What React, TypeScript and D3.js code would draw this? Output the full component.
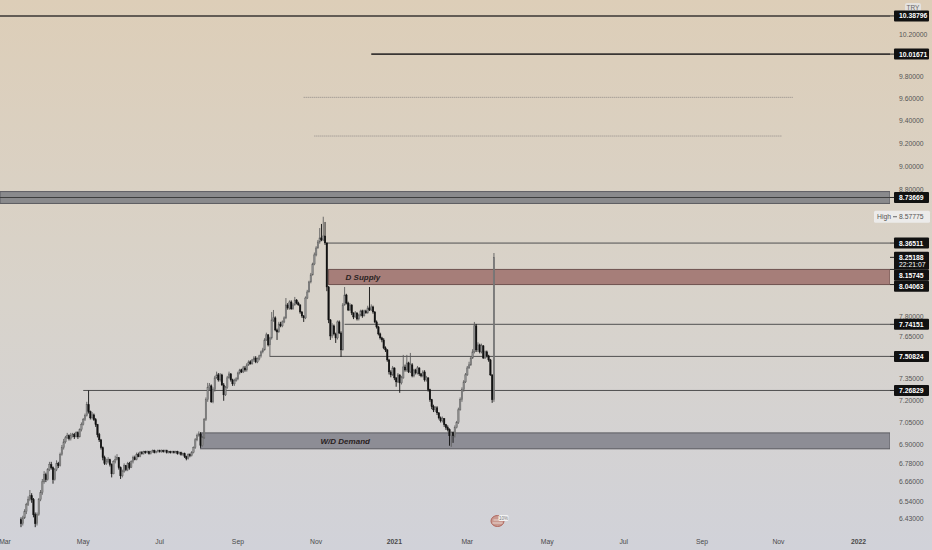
import * as React from 'react'
import * as d3 from 'd3'

const WIDTH = 932
const HEIGHT = 550
const PLOT_RIGHT = 890
const PLOT_BOTTOM = 531
const AXIS_TEXT_X = 899
const VIEW_FIRST_BAR = -2.81
const VIEW_LAST_BAR = 497.75
const PRICE_TOP = 10.547
const PRICE_BOTTOM = 6.3567
const FONT = '"Liberation Sans", Arial, sans-serif'

const dayKey = d3.timeFormat('%Y-%m-%d')

// weekday calendar, bar 0 = 2 Mar 2020
const tradingDays = d3.timeDay
  .range(new Date(2020, 2, 2), new Date(2022, 1, 1))
  .filter(d => d.getDay() !== 0 && d.getDay() !== 6)
const barOf = new Map(tradingDays.map((d, i) => [dayKey(d), i]))
const bar = (day: string) => barOf.get(day) as number

// daily candles from 13 Mar 2020 to 22 Mar 2021 (open = previous close)
const FIRST_CANDLE = '2020-03-13'
const FIRST_OPEN = 6.425
const closes = [
  6.401, 6.437, 6.475, 6.518, 6.549, 6.574, 6.549, 6.456, 6.401, 6.456,
  6.549, 6.593, 6.662, 6.707, 6.675, 6.739, 6.772, 6.752, 6.675, 6.739,
  6.778, 6.765, 6.837, 6.882, 6.921, 6.947, 6.961, 6.941, 6.961, 6.968,
  6.954, 6.981, 6.954, 7.001, 7.035, 7.068, 7.095, 7.17, 7.122, 7.081,
  7.101, 7.068, 7.035, 6.968, 6.934, 6.882, 6.817, 6.778, 6.791, 6.804,
  6.772, 6.713, 6.791, 6.804, 6.817, 6.752, 6.7, 6.726, 6.765, 6.739,
  6.778, 6.752, 6.791, 6.817, 6.804, 6.837, 6.824, 6.85, 6.843, 6.856,
  6.85, 6.856, 6.843, 6.856, 6.863, 6.85, 6.856, 6.863, 6.856, 6.863,
  6.856, 6.863, 6.85, 6.856, 6.85, 6.856, 6.85, 6.856, 6.843, 6.85,
  6.837, 6.843, 6.824, 6.811, 6.837, 6.83, 6.85, 6.882, 6.934, 6.961,
  6.974, 6.895, 6.947, 7.068, 7.204, 7.287, 7.3, 7.19, 7.273, 7.356,
  7.377, 7.342, 7.377, 7.307, 7.238, 7.287, 7.356, 7.384, 7.342, 7.314,
  7.335, 7.349, 7.391, 7.412, 7.398, 7.426, 7.412, 7.448, 7.469, 7.455,
  7.483, 7.497, 7.469, 7.49, 7.512, 7.541, 7.555, 7.627, 7.664, 7.591,
  7.642, 7.774, 7.789, 7.7, 7.685, 7.744, 7.73, 7.759, 7.789, 7.886,
  7.863, 7.908, 7.856, 7.886, 7.923, 7.9, 7.886, 7.833, 7.804, 7.789,
  7.938, 7.984, 8.061, 8.115, 8.2, 8.271, 8.326, 8.374, 8.406, 8.39,
  8.422, 8.366, 8.022, 7.774, 7.656, 7.73, 7.671, 7.642, 7.759, 7.678,
  7.555, 7.886, 7.961, 7.9, 7.848, 7.886, 7.826, 7.796, 7.826, 7.781,
  7.811, 7.841, 7.804, 7.841, 7.826, 7.863, 7.848, 7.871, 7.833, 7.759,
  7.722, 7.671, 7.642, 7.627, 7.569, 7.555, 7.483, 7.398, 7.377, 7.426,
  7.356, 7.328, 7.377, 7.321, 7.356, 7.433, 7.412, 7.462, 7.398, 7.448,
  7.37, 7.412, 7.391, 7.426, 7.384, 7.37, 7.398, 7.342, 7.356, 7.273,
  7.204, 7.156, 7.135, 7.149, 7.115, 7.081, 7.061, 7.075, 7.035, 7.015,
  7.001, 6.961, 6.981, 6.961, 7.015, 7.048, 7.135, 7.204, 7.273, 7.328,
  7.377, 7.426, 7.448, 7.497, 7.541, 7.73, 7.555, 7.591, 7.541, 7.584,
  7.497, 7.541, 7.512, 7.483, 7.377, 7.204, 8.25188
]
const highs = [
  6.44, 6.45, 6.49, 6.53, 6.57, 6.61, 6.59, 6.56, 6.47, 6.47,
  6.56, 6.61, 6.68, 6.73, 6.72, 6.75, 6.79, 6.79, 6.76, 6.75,
  6.8, 6.79, 6.85, 6.9, 6.94, 6.96, 6.98, 6.97, 6.98, 6.98,
  6.98, 6.99, 6.99, 7.01, 7.05, 7.08, 7.11, 7.19, 7.268, 7.13,
  7.12, 7.11, 7.08, 7.04, 6.98, 6.94, 6.89, 6.83, 6.81, 6.82,
  6.81, 6.78, 6.8, 6.83, 6.84, 6.82, 6.76, 6.74, 6.78, 6.77,
  6.79, 6.79, 6.8, 6.83, 6.83, 6.85, 6.85, 6.86, 6.86, 6.862,
  6.862, 6.863, 6.862, 6.862, 6.87, 6.869, 6.862, 6.87, 6.869, 6.87,
  6.869, 6.87, 6.869, 6.862, 6.862, 6.862, 6.862, 6.862, 6.862, 6.856,
  6.856, 6.85, 6.85, 6.83, 6.845, 6.845, 6.86, 6.89, 6.945, 6.975,
  6.99, 6.985, 6.96, 7.08, 7.22, 7.321, 7.32, 7.31, 7.29, 7.37,
  7.4, 7.39, 7.39, 7.385, 7.32, 7.3, 7.37, 7.4, 7.39, 7.35,
  7.35, 7.36, 7.4, 7.42, 7.42, 7.44, 7.44, 7.46, 7.48, 7.48,
  7.49, 7.51, 7.51, 7.5, 7.52, 7.55, 7.57, 7.64, 7.68, 7.67,
  7.65, 7.833, 7.848, 7.8, 7.71, 7.76, 7.76, 7.77, 7.8, 7.938,
  7.9, 7.92, 7.92, 7.9, 7.946, 7.93, 7.91, 7.89, 7.84, 7.81,
  7.95, 8.0, 8.07, 8.13, 8.21, 8.29, 8.34, 8.39, 8.486, 8.519,
  8.57775, 8.535, 8.37, 8.03, 7.78, 7.75, 7.74, 7.68, 7.77, 7.77,
  7.69, 7.9, 8.022, 7.97, 7.91, 7.9, 7.89, 7.83, 7.84, 7.83,
  7.82, 7.85, 7.85, 7.85, 7.85, 7.88, 8.022, 7.89, 7.88, 7.84,
  7.77, 7.73, 7.68, 7.65, 7.64, 7.58, 7.56, 7.49, 7.41, 7.44,
  7.43, 7.36, 7.39, 7.38, 7.37, 7.519, 7.45, 7.519, 7.47, 7.533,
  7.46, 7.42, 7.42, 7.44, 7.43, 7.39, 7.41, 7.41, 7.37, 7.36,
  7.28, 7.21, 7.17, 7.16, 7.16, 7.12, 7.09, 7.09, 7.08, 7.04,
  7.03, 7.01, 6.99, 6.99, 7.03, 7.06, 7.15, 7.22, 7.29, 7.34,
  7.39, 7.44, 7.47, 7.51, 7.56, 7.759, 7.744, 7.61, 7.6, 7.6,
  7.59, 7.55, 7.55, 7.52, 7.49, 7.38, 8.286
]
const lows = [
  6.38, 6.39, 6.43, 6.46, 6.51, 6.54, 6.53, 6.44, 6.38, 6.39,
  6.45, 6.54, 6.58, 6.65, 6.66, 6.67, 6.73, 6.74, 6.65, 6.67,
  6.73, 6.75, 6.76, 6.83, 6.87, 6.91, 6.94, 6.93, 6.93, 6.95,
  6.94, 6.95, 6.94, 6.95, 6.99, 7.03, 7.06, 7.09, 7.11, 7.07,
  7.07, 7.06, 7.02, 6.95, 6.92, 6.87, 6.8, 6.77, 6.77, 6.78,
  6.76, 6.69, 6.71, 6.78, 6.8, 6.74, 6.68, 6.69, 6.72, 6.73,
  6.73, 6.74, 6.75, 6.78, 6.8, 6.8, 6.82, 6.82, 6.837, 6.837,
  6.843, 6.845, 6.837, 6.838, 6.85, 6.845, 6.845, 6.85, 6.85, 6.85,
  6.85, 6.85, 6.844, 6.845, 6.844, 6.845, 6.844, 6.845, 6.837, 6.837,
  6.83, 6.83, 6.815, 6.8, 6.805, 6.82, 6.825, 6.845, 6.875, 6.925,
  6.955, 6.882, 6.89, 6.94, 7.06, 7.19, 7.27, 7.183, 7.18, 7.26,
  7.35, 7.33, 7.33, 7.3, 7.197, 7.23, 7.28, 7.35, 7.33, 7.3,
  7.3, 7.33, 7.34, 7.38, 7.39, 7.39, 7.4, 7.4, 7.44, 7.45,
  7.45, 7.47, 7.46, 7.46, 7.48, 7.5, 7.53, 7.55, 7.62, 7.58,
  7.505, 7.63, 7.76, 7.69, 7.627, 7.68, 7.72, 7.72, 7.75, 7.78,
  7.85, 7.85, 7.85, 7.85, 7.88, 7.89, 7.88, 7.82, 7.79, 7.759,
  7.78, 7.93, 7.98, 8.05, 8.11, 8.19, 8.26, 8.32, 8.36, 8.38,
  8.38, 8.35, 7.99, 7.75, 7.627, 7.64, 7.66, 7.605, 7.63, 7.67,
  7.505, 7.55, 7.88, 7.89, 7.84, 7.84, 7.81, 7.78, 7.79, 7.77,
  7.77, 7.8, 7.79, 7.8, 7.82, 7.82, 7.84, 7.84, 7.82, 7.75,
  7.71, 7.66, 7.63, 7.61, 7.56, 7.54, 7.47, 7.38, 7.36, 7.37,
  7.34, 7.294, 7.32, 7.252, 7.31, 7.35, 7.4, 7.4, 7.39, 7.39,
  7.36, 7.36, 7.38, 7.38, 7.37, 7.36, 7.36, 7.33, 7.33, 7.26,
  7.19, 7.14, 7.12, 7.12, 7.1, 7.07, 7.05, 7.05, 7.02, 7.0,
  6.99, 6.895, 6.888, 6.914, 6.95, 7.01, 7.04, 7.13, 7.19, 7.26,
  7.32, 7.37, 7.42, 7.44, 7.49, 7.53, 7.54, 7.54, 7.53, 7.53,
  7.49, 7.49, 7.5, 7.47, 7.37, 7.183, 7.19
]
const COUNTDOWN = '22:21:07'
const HIGH_PRICE = 8.57775

// price scale ticks
const priceTicks = [
  10.2, 10.0, 9.8, 9.6, 9.4, 9.2, 9.0, 8.8, 8.6, 8.4, 8.2, 8.0, 7.8, 7.65,
  7.5, 7.35, 7.2, 7.05, 6.9, 6.78, 6.66, 6.54, 6.43
]
// time scale ticks
const monthStarts = [
  '2020-03', '2020-05', '2020-07', '2020-09', '2020-11', '2021-01',
  '2021-03', '2021-05', '2021-07', '2021-09', '2021-11', '2022-01'
]
const monthLabels = ['Mar', 'May', 'Jul', 'Sep', 'Nov', '2021', 'Mar', 'May', 'Jul', 'Sep', 'Nov', '2022']

// horizontal levels drawn on the chart
const levelPrices = [10.38796, 10.01671, 8.36511, 7.74151, 7.50824, 7.26829]
const levelStarts = ['', '2020-12-15', '2020-11-10', '2020-11-24', '2020-09-25', '2020-05-01']
const dottedPrices = [9.612, 9.264]
const dottedStarts = ['2020-10-22', '2020-10-30']
const dottedEnds = ['2021-11-11', '2021-11-03']

// rectangles
const zoneNames = ['', 'D Supply', 'W/D Demand']
const zoneTops = [8.786, 8.15745, 6.98]
const zoneBottoms = [8.687, 8.04063, 6.875]
const zoneStarts = ['', '2020-11-11', '2020-08-03']
const ZONE_MID_LINE = 8.73669
const axisMarks = [10.38796, 10.01671, 8.73669, 8.36511, 8.15745, 8.04063, 7.74151, 7.50824, 7.26829]

const x = d3.scaleLinear().domain([VIEW_FIRST_BAR, VIEW_LAST_BAR]).range([0, PLOT_RIGHT])
const y = d3.scaleLog().domain([PRICE_BOTTOM, PRICE_TOP]).range([PLOT_BOTTOM, 0])
const startX = (day: string) => (day ? x(bar(day)) : 0)
const fmt = d3.format('.5f')

interface Candle {
  i: number
  open: number
  high: number
  low: number
  close: number
}

const firstBar = bar(FIRST_CANDLE)
const candles: Candle[] = closes.map((c, k) => ({
  i: firstBar + k,
  open: k === 0 ? FIRST_OPEN : closes[k - 1],
  high: highs[k],
  low: lows[k],
  close: c
}))

interface AxisLabel {
  price: number
  lines: string[]
  top: number
  h: number
}

function placeLabels(): AxisLabel[] {
  const last = closes[closes.length - 1]
  const list = axisMarks
    .map(p => ({ price: p, lines: [fmt(p)] }))
    .concat([{ price: last, lines: [fmt(last), COUNTDOWN] }])
    .map(l => {
      const h = l.lines.length === 1 ? 11 : 18
      return { ...l, h, top: y(l.price) - 5.5 }
    })
    .sort((a, b) => a.top - b.top)
  let bottom = -Infinity
  list.forEach(l => {
    if (l.top < bottom) l.top = bottom
    bottom = l.top + l.h
  })
  return list
}

export default function App() {
  React.useEffect(() => {
    document.body.style.margin = '0'
  }, [])

  const bodyW = 1.5
  const labels = placeLabels()
  const highY = y(HIGH_PRICE)
  // the price scale hides a tick whose text would sit under a label
  const covers = labels
    .map(l => [l.top - 2, l.top + l.h + 2])
    .concat([[highY - 8, highY + 8]])
  const visibleTicks = priceTicks.filter(t => !covers.some(([a, b]) => y(t) > a && y(t) < b))

  return (
    <svg width={WIDTH} height={HEIGHT} style={{ display: 'block', fontFamily: FONT }}>
      <defs>
        <linearGradient id="bg" x1="0" y1="0" x2="0" y2="1">
          <stop offset="0" stopColor="#ddceb8" />
          <stop offset="0.55" stopColor="#d8d3cb" />
          <stop offset="1" stopColor="#d1d2d9" />
        </linearGradient>
        <clipPath id="plot">
          <rect x={0} y={0} width={PLOT_RIGHT} height={PLOT_BOTTOM} />
        </clipPath>
      </defs>
      <rect width={WIDTH} height={HEIGHT} fill="url(#bg)" />

      {/* price scale ticks */}
      <g fontSize={6.8} fill="#555">
        {visibleTicks.map(t => (
          <text key={t} x={AXIS_TEXT_X} y={y(t)} dy="0.35em">
            {fmt(t)}
          </text>
        ))}
      </g>

      {/* time scale ticks */}
      <g fontSize={6.8} fill="#4a4a4a" textAnchor="middle">
        {monthStarts.map((m, k) => {
          const first = tradingDays.find(d => dayKey(d).startsWith(m)) as Date
          const lbl = monthLabels[k]
          return (
            <text
              key={m}
              x={x(barOf.get(dayKey(first)) as number)}
              y={544}
              fontWeight={lbl.length === 4 ? 'bold' : 'normal'}
            >
              {lbl}
            </text>
          )
        })}
      </g>

      <g clipPath="url(#plot)">
        {/* zones */}
        {zoneNames.map((name, k) => {
          const x0 = startX(zoneStarts[k])
          const yt = y(zoneTops[k])
          const yb = y(zoneBottoms[k])
          const fill = k === 1 ? '#a67e79' : k === 2 ? '#8d8d95' : '#8a8a8c'
          const stroke = k === 1 ? '#6f5350' : '#5c5c62'
          return (
            <g key={k}>
              <rect x={x0} y={yt} width={PLOT_RIGHT - x0} height={yb - yt} fill={fill} stroke={stroke} strokeWidth={1} />
              {name && (
                <text
                  x={x0 + (k === 1 ? 17 : 120)}
                  y={(yt + yb) / 2}
                  dy="0.35em"
                  fontSize={8}
                  fontWeight="bold"
                  fontStyle="italic"
                  fill="#2a2222"
                >
                  {name}
                </text>
              )}
            </g>
          )
        })}
        <line x1={0} x2={PLOT_RIGHT} y1={y(ZONE_MID_LINE)} y2={y(ZONE_MID_LINE)} stroke="#3e3e3e" strokeWidth={1.2} />

        {/* level lines */}
        {levelPrices.map((p, k) => (
          <line
            key={p}
            x1={startX(levelStarts[k])}
            x2={PLOT_RIGHT}
            y1={y(p)}
            y2={y(p)}
            stroke={k < 2 ? '#3a3634' : '#505050'}
            strokeWidth={k < 2 ? 1.6 : 1}
          />
        ))}
        {dottedPrices.map((p, k) => (
          <line
            key={p}
            x1={startX(dottedStarts[k])}
            x2={startX(dottedEnds[k])}
            y1={y(p)}
            y2={y(p)}
            stroke="#8f8a86"
            strokeWidth={1}
            strokeDasharray="1,1"
          />
        ))}

        {/* candles */}
        {candles.map(c => {
          const up = c.close >= c.open
          const cx = x(c.i)
          const top = y(Math.max(c.open, c.close))
          const bot = y(Math.min(c.open, c.close))
          const col = up ? '#5f5f5f' : '#111'
          return (
            <g key={c.i}>
              <line x1={cx} x2={cx} y1={y(c.high)} y2={y(c.low)} stroke={col} strokeWidth={0.9} />
              <rect
                x={cx - bodyW / 2}
                y={top}
                width={bodyW}
                height={Math.max(1, bot - top)}
                fill={up ? '#8e8e8e' : '#111'}
                stroke={col}
                strokeWidth={0.4}
              />
            </g>
          )
        })}
      </g>

      {/* TRY badge */}
      <rect x={905} y={3} width={16} height={10} rx={2} fill="#e4e2df" />
      <text x={913} y={8} dy="0.35em" textAnchor="middle" fontSize={6.5} fill="#666">
        TRY
      </text>

      {/* High marker */}
      <rect x={874} y={highY - 6} width={56} height={12} rx={1.5} fill="#ecebea" />
      <text x={877} y={highY} dy="0.35em" fontSize={6.8} fill="#555">
        High
      </text>
      <line x1={893} x2={897} y1={highY} y2={highY} stroke="#666" />
      <text x={AXIS_TEXT_X} y={highY} dy="0.35em" fontSize={6.8} fill="#555">
        {fmt(HIGH_PRICE)}
      </text>

      {/* axis price labels */}
      {labels.map(l => (
        <g key={l.price}>
          <line x1={PLOT_RIGHT} x2={895} y1={y(l.price)} y2={y(l.price)} stroke="#2a2a2a" />
          <rect x={894} y={l.top} width={35} height={l.h} rx={1} fill="#111" />
          {l.lines.map((s, k) => (
            <text
              key={s}
              x={AXIS_TEXT_X}
              y={l.top + 5.6 + k * 7.5}
              dy="0.35em"
              fontSize={6.8}
              fontWeight={k === 0 ? 'bold' : 'normal'}
              fill="#fff"
            >
              {s}
            </text>
          ))}
        </g>
      ))}

      {/* watermark icon */}
      <g transform={`translate(${x(bar('2021-03-24'))},${PLOT_BOTTOM - 10})`}>
        <ellipse cx={0} cy={0} rx={6.5} ry={5.5} fill="#c99990" stroke="#b0675d" strokeWidth={1} />
        <line x1={-5} x2={5} y1={2} y2={2} stroke="#f1e4e0" strokeWidth={0.8} />
        <line x1={-4} x2={4} y1={-1} y2={-1} stroke="#f1e4e0" strokeWidth={0.8} />
        <rect x={1} y={-6} width={10} height={6} rx={1.5} fill="#f2f2f2" />
        <text x={6} y={-3} dy="0.35em" textAnchor="middle" fontSize={4.5} fill="#777">
          10%
        </text>
      </g>
    </svg>
  )
}
